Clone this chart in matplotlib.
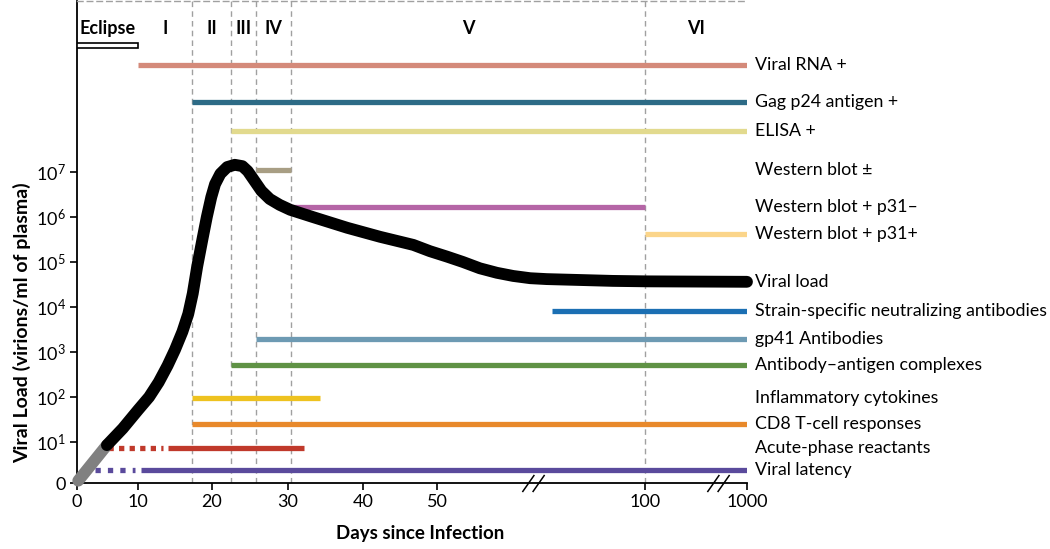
import numpy as np
import matplotlib
matplotlib.use("Agg")
import matplotlib.pyplot as plt
from matplotlib.path import Path

plt.rcParams['font.family'] = ['Lato', 'DejaVu Sans']
plt.rcParams['mathtext.fontset'] = 'custom'
plt.rcParams['mathtext.rm'] = 'Lato'
plt.rcParams['mathtext.it'] = 'Lato'

# ---------------- data ----------------
x_ticks = [0, 10, 20, 30, 40, 50, 100, 1000]
y_tick_labels = ["0", r"$\mathregular{10^{1}}$", r"$\mathregular{10^{2}}$", r"$\mathregular{10^{3}}$",
                 r"$\mathregular{10^{4}}$", r"$\mathregular{10^{5}}$", r"$\mathregular{10^{6}}$",
                 r"$\mathregular{10^{7}}$"]

phase_names = ["Eclipse", "I", "II", "III", "IV", "V", "VI"]
phase_bounds = [0, 10, 17.3, 22.5, 25.8, 30.4, 100, 1000]

# viral load curve (days, log10 virions/ml)
early_days = [0.2, 4.9]
early_log10 = [0.14, 0.93]
vl_days = [4.9, 7.5, 10, 11.5, 12.8, 14.0, 15.0, 16.0, 16.8, 17.4, 18.0, 18.7, 19.3, 19.9,
           20.4, 21.1, 22.0, 23.0, 24.0, 24.7, 25.6, 26.5, 27.6, 28.9, 30.3, 33.3, 37.9,
           42.3, 46.8, 49.05, 52.4, 56.25, 60.3, 64.4, 68.3, 72.4, 76.4, 84.4, 92.3,
           117, 1000]
vl_log10 = [0.93, 1.30, 1.71, 2.00, 2.33, 2.70, 3.05, 3.45, 3.85, 4.30, 4.90, 5.50, 6.00, 6.44,
            6.73, 6.96, 7.11, 7.16, 7.13, 7.02, 6.80, 6.58, 6.40, 6.27, 6.16, 6.00, 5.76,
            5.56, 5.38, 5.24, 5.12, 5.00, 4.86, 4.76, 4.69, 4.64, 4.62, 4.60, 4.58,
            4.57, 4.56]

markers = ["Viral RNA +", "Gag p24 antigen +", "ELISA +", "Western blot \u00b1",
           "Western blot + p31\u2013", "Western blot + p31+", "Viral load",
           "Strain-specific neutralizing antibodies", "gp41 Antibodies",
           "Antibody\u2013antigen complexes", "Inflammatory cytokines",
           "CD8 T-cell responses", "Acute-phase reactants", "Viral latency"]
marker_start = [10, 17.3, 22.5, 25.8, 30.4, 100, None, 77.6, 25.8, 22.5, 17.3, 17.3, 14.05, 10.4]
marker_end = [1000, 1000, 1000, 30.4, 100, 1000, None, 1000, 1000, 1000, 34.3, 1000, 32.1, 1000]
# dotted (uncertain) lead-in segments
dotted_start = {"Acute-phase reactants": 5.1, "Viral latency": 3.0}
dotted_end = {"Acute-phase reactants": 13.4, "Viral latency": 9.5}

# ---------------- layout / style ----------------
row_y = [9.38, 8.56, 7.91, 7.04, 6.22, 5.62, 4.56, 3.91, 3.29, 2.71, 1.98, 1.40, 0.87, 0.38]
colors = ["#D48A7A", "#2D6B86", "#E2DA8E", "#A89E84", "#B565A6", "#FBD58A", "black",
          "#1B6FB3", "#6D9AB3", "#5F9245", "#EEC21F", "#E8892B", "#C0392B", "#5A4A9C"]
dash_pat = {"Acute-phase reactants": (0, (1.0, 1.0)), "Viral latency": (0, (1.0, 1.35))}

knot_days = np.array([0, 10, 20, 30, 40, 50, 100, 1000], dtype=float)
knot_pos = np.array([0, 61, 135, 211, 286, 360, 568, 670], dtype=float)


def fwd(d):
    return np.interp(d, knot_days, knot_pos)


def inv(p):
    return np.interp(p, knot_pos, knot_days)


fig = plt.figure(figsize=(10.5, 5.49), dpi=100)
ax = fig.add_axes([77 / 1050, 66 / 549, 670 / 1050, 482 / 549])
ax.set_xscale('function', functions=(fwd, inv))
ax.set_xlim(0, 1000)
y_bottom = 0.089
ax.set_ylim(y_bottom, 10.8)

# spines
for s in ['left', 'bottom']:
    ax.spines[s].set_linewidth(1.3)
ax.spines['right'].set_visible(False)
ax.spines['top'].set_color('#a0a0a0')
ax.spines['top'].set_linewidth(1.0)
ax.spines['top'].set_linestyle((0, (4, 3)))

ax.set_xticks(x_ticks)
ax.set_xticklabels([str(t) for t in x_ticks])
ax.set_yticks([y_bottom] + list(range(1, 8)))
ax.set_yticklabels(y_tick_labels)
ax.tick_params(axis='both', labelsize=13, length=5, width=1.2, direction='out', pad=3)
ax.minorticks_off()

# phase boundaries
for b in phase_bounds[2:-1]:
    ax.axvline(b, color='#a0a0a0', lw=1.0, ls=(0, (4, 3)), zorder=1)

# phase labels
for i, name in enumerate(phase_names):
    mid = inv((fwd(phase_bounds[i]) + fwd(phase_bounds[i + 1])) / 2)
    ax.text(mid, 10.2, name, ha='center', va='center', fontsize=13, fontweight='bold')

# eclipse bar
ax.barh(9.81, phase_bounds[1] - phase_bounds[0], left=phase_bounds[0], height=0.11,
        facecolor='white', edgecolor='black', linewidth=1.2, zorder=3)

# marker bars
for name, s, e, y, c in zip(markers, marker_start, marker_end, row_y, colors):
    if s is not None:
        ax.plot([s, e], [y, y], color=c, lw=3.8, solid_capstyle='butt', zorder=2)
    if name in dotted_start:
        ax.plot([dotted_start[name], dotted_end[name]], [y, y], color=c, lw=3.8,
                ls=dash_pat[name], dash_capstyle='butt', zorder=2)
    ax.text(1.012, y, name, transform=ax.get_yaxis_transform(), ha='left', va='center',
            fontsize=12.8, clip_on=False)

# viral load curve
ax.plot(early_days, early_log10, color='#808080', lw=8.5, solid_capstyle='round', zorder=4,
        clip_on=False)
ax.plot(vl_days, vl_log10, color='black', lw=8.5, solid_capstyle='round',
        solid_joinstyle='round', zorder=5, clip_on=False)

# axis break marks
brk = Path([(-1.3, -1.0), (0.1, 1.0), (-0.1, -1.0), (1.3, 1.0)],
           [Path.MOVETO, Path.LINETO, Path.MOVETO, Path.LINETO])
for bx in [inv(456), inv(641)]:
    ax.plot([bx], [0], marker=brk, markersize=16, markeredgewidth=1.1, color='black',
            fillstyle='none', transform=ax.get_xaxis_transform(), clip_on=False, zorder=6)

fig.text(22 / 1050, (549 - 323) / 549, "Viral Load (virions/ml of plasma)", rotation=90,
         ha='center', va='center', fontsize=14, fontweight='bold')
fig.text(420 / 1050, (549 - 534) / 549, "Days since Infection", ha='center', va='center',
         fontsize=13.5, fontweight='bold')

fig.savefig("out.png", dpi=100)
